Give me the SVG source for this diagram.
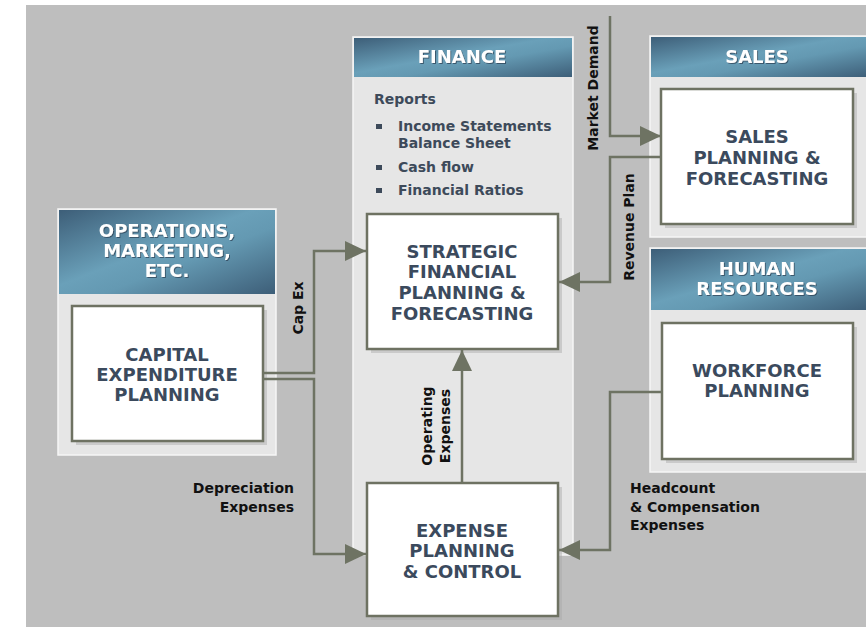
<svg xmlns="http://www.w3.org/2000/svg" width="866" height="627" viewBox="0 0 866 627">
<defs>
<linearGradient id="hdr" x1="0" y1="0" x2="1" y2="1">
<stop offset="0" stop-color="#3d5e78"/>
<stop offset="0.45" stop-color="#6aa0b9"/>
<stop offset="0.6" stop-color="#6499b2"/>
<stop offset="1" stop-color="#3d5e78"/>
</linearGradient>
<filter id="ts" x="-10%" y="-30%" width="120%" height="160%">
<feDropShadow dx="1" dy="1" stdDeviation="0.6" flood-color="#2b3d50" flood-opacity="0.7"/>
</filter>
<marker id="ah" markerUnits="userSpaceOnUse" markerWidth="21" markerHeight="20" refX="21" refY="10" orient="auto">
<path d="M0,0 L21,10 L0,20 z" fill="#6e7363"/>
</marker>
<style>
.panel{fill:#e6e6e6;stroke:#f6f6f6;stroke-width:1.5}
.hdr{fill:url(#hdr)}
.htxt{font-family:"DejaVu Sans",Verdana,sans-serif;font-weight:bold;font-size:18px;fill:#ffffff;text-anchor:middle;filter:url(#ts)}
.box{fill:#ffffff;stroke:#6e7262;stroke-width:2.5}
.shadow{fill:#a8a8a8;opacity:0.45}
.btxt{font-family:"DejaVu Sans",Verdana,sans-serif;font-weight:bold;font-size:18px;fill:#3b4a5d;text-anchor:middle}
.ftxt{font-family:"DejaVu Sans",Verdana,sans-serif;font-weight:bold;font-size:14px;fill:#3d4a5a}
.bul{fill:#3d4a5a}
.lbl{font-family:"DejaVu Sans",Verdana,sans-serif;font-weight:bold;font-size:14px;fill:#111111}
.conn{fill:none;stroke:#6e7363;stroke-width:2.5}
</style>
</defs>
<rect x="0" y="0" width="866" height="627" fill="#ffffff"/>
<rect x="26" y="5" width="840" height="622" fill="#bebebe"/>

<g id="finance-panel">
<rect class="panel" x="353" y="37" width="220" height="518"/>
<rect class="hdr" x="354" y="38" width="218" height="39"/>
<text class="htxt" x="462" y="63">FINANCE</text>
<text class="ftxt" x="374" y="104">Reports</text>
<rect class="bul" x="376" y="124" width="6" height="5"/>
<text class="ftxt" x="398" y="131">Income Statements</text>
<text class="ftxt" x="398" y="148">Balance Sheet</text>
<rect class="bul" x="376" y="165" width="6" height="5"/>
<text class="ftxt" x="398" y="172">Cash flow</text>
<rect class="bul" x="376" y="188" width="6" height="5"/>
<text class="ftxt" x="398" y="195">Financial Ratios</text>
</g>

<g id="ops-panel">
<rect class="panel" x="58" y="209" width="218" height="246"/>
<rect class="hdr" x="59" y="210" width="216" height="84"/>
<text class="htxt" x="167" y="237">OPERATIONS,</text>
<text class="htxt" x="167" y="257">MARKETING,</text>
<text class="htxt" x="167" y="277">ETC.</text>
</g>

<g id="sales-panel">
<rect class="panel" x="650" y="36" width="220" height="201"/>
<rect class="hdr" x="651" y="37" width="218" height="40"/>
<text class="htxt" x="757" y="63">SALES</text>
</g>

<g id="hr-panel">
<rect class="panel" x="650" y="248" width="220" height="224"/>
<rect class="hdr" x="651" y="249" width="218" height="61"/>
<text class="htxt" x="757" y="275">HUMAN</text>
<text class="htxt" x="757" y="295">RESOURCES</text>
</g>

<g id="capital">
<rect class="shadow" x="76" y="310" width="191" height="135"/>
<rect class="box" x="72" y="306" width="191" height="135"/>
<text class="btxt" x="167" y="361">CAPITAL</text>
<text class="btxt" x="167" y="381">EXPENDITURE</text>
<text class="btxt" x="167" y="401">PLANNING</text>
</g>

<g id="strategic">
<rect class="shadow" x="371" y="218" width="191" height="135"/>
<rect class="box" x="367" y="214" width="191" height="135"/>
<text class="btxt" x="462" y="258">STRATEGIC</text>
<text class="btxt" x="462" y="278">FINANCIAL</text>
<text class="btxt" x="462" y="299">PLANNING &amp;</text>
<text class="btxt" x="462" y="320">FORECASTING</text>
</g>

<g id="sales">
<rect class="shadow" x="665" y="93" width="192" height="135"/>
<rect class="box" x="661" y="89" width="192" height="135"/>
<text class="btxt" x="757" y="143">SALES</text>
<text class="btxt" x="757" y="164">PLANNING &amp;</text>
<text class="btxt" x="757" y="185">FORECASTING</text>
</g>

<g id="workforce">
<rect class="shadow" x="666" y="327" width="191" height="136"/>
<rect class="box" x="662" y="323" width="191" height="136"/>
<text class="btxt" x="757" y="377">WORKFORCE</text>
<text class="btxt" x="757" y="397">PLANNING</text>
</g>

<g id="expense">
<rect class="shadow" x="371" y="487" width="191" height="133"/>
<rect class="box" x="367" y="483" width="191" height="133"/>
<text class="btxt" x="462" y="537">EXPENSE</text>
<text class="btxt" x="462" y="557">PLANNING</text>
<text class="btxt" x="462" y="578">&amp; CONTROL</text>
</g>

<g id="connectors">
<path class="conn" d="M610,16 V136 H661" marker-end="url(#ah)"/>
<path class="conn" d="M661,157 H610 V282 H559" marker-end="url(#ah)"/>
<path class="conn" d="M263,373 H314 V251 H366" marker-end="url(#ah)"/>
<path class="conn" d="M263,379 H314 V554 H366" marker-end="url(#ah)"/>
<path class="conn" d="M462,483 V350" marker-end="url(#ah)"/>
<path class="conn" d="M662,392 H610 V550 H559" marker-end="url(#ah)"/>
</g>

<g id="labels">
<text class="lbl" transform="translate(598,88) rotate(-90)" text-anchor="middle">Market Demand</text>
<text class="lbl" transform="translate(634,227) rotate(-90)" text-anchor="middle">Revenue Plan</text>
<text class="lbl" transform="translate(303,308) rotate(-90)" text-anchor="middle">Cap Ex</text>
<text class="lbl" transform="translate(432,426) rotate(-90)" text-anchor="middle">Operating</text>
<text class="lbl" transform="translate(450,426) rotate(-90)" text-anchor="middle">Expenses</text>
<text class="lbl" x="294" y="493" text-anchor="end">Depreciation</text>
<text class="lbl" x="294" y="512" text-anchor="end">Expenses</text>
<text class="lbl" x="630" y="493">Headcount</text>
<text class="lbl" x="630" y="512">&amp; Compensation</text>
<text class="lbl" x="630" y="530">Expenses</text>
</g>
</svg>
